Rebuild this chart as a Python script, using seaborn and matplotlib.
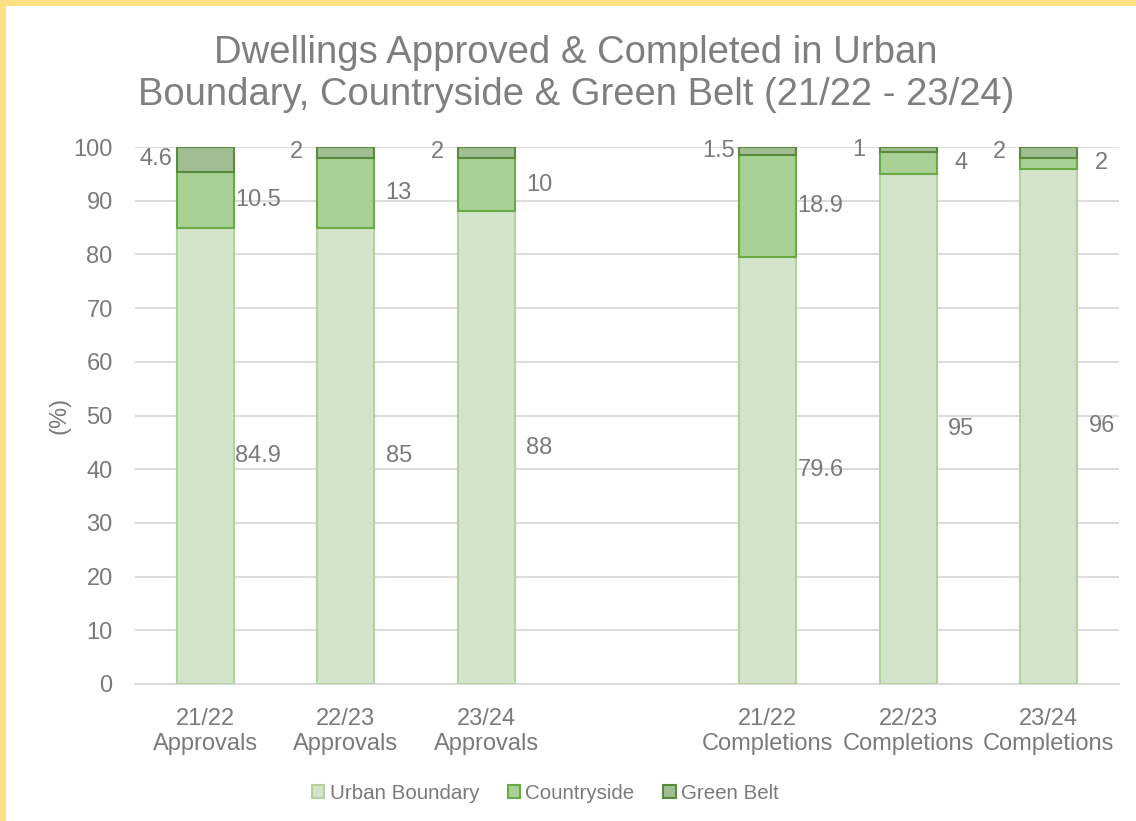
import numpy as np
import pandas as pd
import matplotlib
matplotlib.use("Agg")
import matplotlib.pyplot as plt
from matplotlib.patches import Rectangle
import seaborn as sns

# data (% of dwellings)
categories = ["21/22\nApprovals", "22/23\nApprovals", "23/24\nApprovals",
              "21/22\nCompletions", "22/23\nCompletions", "23/24\nCompletions"]
axis_order = categories[:3] + [""] + categories[3:]
urban = [84.9, 85, 88, 79.6, 95, 96]
countryside = [10.5, 13, 10, 18.9, 4, 2]
green_belt = [4.6, 2, 2, 1.5, 1, 2]

series_names = ["Urban Boundary", "Countryside", "Green Belt"]
fills = ["#d3e4cb", "#a9d095", "#a1bd93"]
edges = ["#b2d29f", "#6aab46", "#5a8a3c"]
txt = "#7a7a7a"

df = pd.DataFrame({"cat": categories, "Urban Boundary": urban,
                   "Countryside": countryside, "Green Belt": green_belt})

sns.set_style("white")
plt.rcParams["font.family"] = ["Liberation Sans", "DejaVu Sans"]

fig = plt.figure(figsize=(11.36, 8.21), dpi=100)
ax = fig.add_axes([0.1188, 0.1669, 0.8662, 0.654])

bottom = np.zeros(len(categories))
for name, fc, ec in zip(series_names, fills, edges):
    sns.barplot(data=df, x="cat", y=name, order=axis_order, ax=ax,
                color=fc, saturation=1, width=0.405, errorbar=None,
                bottom=bottom, edgecolor=ec, linewidth=1.5, zorder=3)
    bottom = bottom + df[name].to_numpy()

# data labels
pos = {c: axis_order.index(c) for c in categories}
low = np.zeros(len(categories))
for name in series_names:
    vals = df[name].to_numpy()
    for i, c in enumerate(categories):
        mid = low[i] + vals[i] / 2
        if name == "Green Belt":
            x = pos[c] - 0.35
        else:
            x = pos[c] + 0.377
        ax.text(x, mid, f"{vals[i]:g}", ha="center", va="center",
                fontsize=17, color=txt)
    low = low + vals

ax.set_ylim(0, 100)
ax.set_xlim(-0.5, len(axis_order) - 0.5)
ax.set_yticks(range(0, 101, 10))
ax.yaxis.grid(True, color="#d9d9d9", linewidth=1.3, zorder=0)
ax.set_axisbelow(True)
for s in ["top", "right", "left"]:
    ax.spines[s].set_visible(False)
ax.spines["bottom"].set_color("#d9d9d9")
ax.spines["bottom"].set_linewidth(1.3)
ax.tick_params(axis="y", length=0, pad=16, labelsize=17, labelcolor=txt)
ax.tick_params(axis="x", length=0, pad=17, labelsize=17, labelcolor=txt)
ax.set_xlabel("")
ax.set_ylabel("(%)", fontsize=17, color=txt)
ax.yaxis.set_label_coords(-0.066, 0.5)

fig.text(0.507, 1 - 63 / 821, "Dwellings Approved & Completed in Urban",
         ha="center", va="baseline", fontsize=27.5, color="#7f7f7f")
fig.text(0.507, 1 - 105 / 821, "Boundary, Countryside & Green Belt (21/22 - 23/24)",
         ha="center", va="baseline", fontsize=27.5, color="#7f7f7f")

handles = [Rectangle((0, 0), 1, 1, facecolor=fc, edgecolor=ec, linewidth=1.5)
           for fc, ec in zip(fills, edges)]
leg = fig.legend(handles, series_names, loc="center", bbox_to_anchor=(0.48, 0.034),
                 ncol=3, frameon=False, fontsize=14.8, handlelength=0.6,
                 handleheight=0.6, handletextpad=0.25, columnspacing=1.4)
for t in leg.get_texts():
    t.set_color(txt)

# yellow frame at top and left edges
fig.patches.append(Rectangle((0, 1 - 6 / 821), 1, 6 / 821, transform=fig.transFigure,
                             facecolor="#ffe083", edgecolor="none", zorder=0))
fig.patches.append(Rectangle((0, 0), 6 / 1136, 1, transform=fig.transFigure,
                             facecolor="#ffe083", edgecolor="none", zorder=0))

fig.savefig("out.png", dpi=100, facecolor="white")
